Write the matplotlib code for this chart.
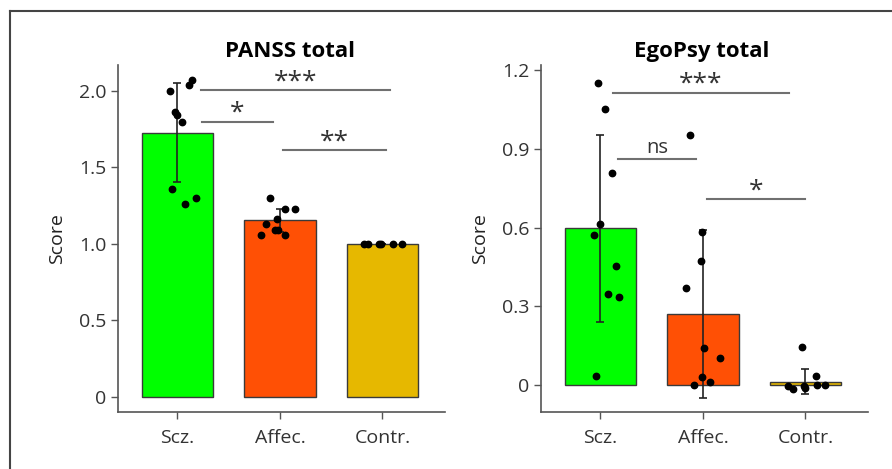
import matplotlib
matplotlib.use("Agg")
import matplotlib.pyplot as plt
from matplotlib.lines import Line2D

plt.rcParams['font.family'] = ['Open Sans', 'DejaVu Sans']

groups = ["Scz.", "Affec.", "Contr."]
bar_colors = ["#00ff00", "#ff5005", "#e6b800"]

# PANSS total
panss_mean = [1.727, 1.155, 1.0]
panss_err = [0.325, 0.075, 0.0]
panss_pts = [
    [(-0.07, 2.00), (0.11, 2.04), (0.14, 2.07), (-0.02, 1.86), (0.00, 1.84),
     (0.04, 1.80), (-0.05, 1.36), (0.18, 1.30), (0.07, 1.26)],
    [(-0.10, 1.30), (0.05, 1.23), (0.15, 1.23), (-0.03, 1.16), (-0.14, 1.13),
     (-0.19, 1.06), (-0.02, 1.09), (0.05, 1.06), (-0.05, 1.09)],
    [(-0.18, 1.0), (-0.14, 1.0), (-0.03, 1.0), (-0.01, 1.0), (0.10, 1.0), (0.19, 1.0)],
]
panss_ticks = [0, 0.5, 1.0, 1.5, 2.0]
panss_ticklabels = ["0", "0.5", "1.0", "1.5", "2.0"]
# (x1, x2, y, label)
panss_sig = [(0.23, 2.07, 2.006, "***"), (0.24, 0.93, 1.80, "*"), (1.03, 2.03, 1.614, "**")]

# EgoPsy total
ego_mean = [0.597, 0.27, 0.0125]
ego_err = [0.356, 0.32, 0.048]
ego_pts = [
    [(-0.02, 1.15), (0.04, 1.053), (0.11, 0.81), (0.00, 0.615), (-0.06, 0.571),
     (0.15, 0.453), (0.07, 0.348), (0.18, 0.334), (-0.04, 0.035)],
    [(-0.13, 0.954), (-0.01, 0.585), (-0.02, 0.473), (-0.17, 0.37), (0.01, 0.143),
     (0.17, 0.104), (-0.01, 0.03), (0.07, 0.011), (-0.09, 0.0)],
    [(-0.03, 0.146), (0.10, 0.034), (-0.17, -0.004), (-0.12, -0.016), (-0.01, -0.004),
     (0.00, -0.01), (0.11, 0.0), (0.19, 0.0)],
]
ego_ticks = [0, 0.3, 0.6, 0.9, 1.2]
ego_ticklabels = ["0", "0.3", "0.6", "0.9", "1.2"]
ego_sig = [(0.12, 1.84, 1.114, "***"), (0.17, 0.93, 0.861, "ns"), (1.04, 2.0, 0.709, "*")]

fig = plt.figure(figsize=(8.92, 4.69), dpi=100)
ax1 = fig.add_axes([0.1323, 0.1215, 0.3666, 0.7399])
ax2 = fig.add_axes([0.6065, 0.1215, 0.3666, 0.7399])

# cadre autour de la figure
fig.add_artist(Line2D([10 / 892, 1.0], [1 - 11 / 469, 1 - 11 / 469], color="#444444", lw=1.5))
fig.add_artist(Line2D([10 / 892, 10 / 892], [0.0, 1 - 11 / 469], color="#444444", lw=1.5))


def dessiner(ax, titre, moy, err, pts, ticks, labels, sig, ylim, title_x):
    x = range(len(groups))
    ax.bar(x, moy, width=0.7, color=bar_colors, edgecolor="#3a3a3a", linewidth=1.0, zorder=1)
    ax.errorbar(x, moy, yerr=err, fmt="none", ecolor="#222222", elinewidth=1.2,
                capsize=3, capthick=1.2, zorder=2)
    for i, groupe in enumerate(pts):
        xs = [i + dx for dx, _ in groupe]
        ys = [v for _, v in groupe]
        ax.plot(xs, ys, "o", color="black", markersize=4.6, zorder=3, clip_on=False)
    for x1, x2, y, lab in sig:
        ax.plot([x1, x2], [y, y], color="#707070", lw=1.5, zorder=2, clip_on=False)
        if lab == "ns":
            ax.annotate(lab, ((x1 + x2) / 2, y), xytext=(0, 8), textcoords="offset points",
                        ha="center", va="center", fontsize=14.5, color="#333333",
                        annotation_clip=False)
        else:
            ax.annotate(lab, ((x1 + x2) / 2, y), xytext=(0, 6), textcoords="offset points",
                        ha="center", va="center", fontsize=19, color="#333333",
                        annotation_clip=False)
    ax.set_xlim(-0.58, 2.61)
    ax.set_ylim(*ylim)
    ax.set_yticks(ticks)
    ax.set_yticklabels(labels)
    ax.set_xticks(list(x))
    ax.set_xticklabels(groups)
    ax.set_ylabel("Score", fontsize=14, color="#222222", labelpad=9)
    ax.set_title(titre, fontsize=16, fontweight="bold", x=title_x, pad=6)
    for s in ["top", "right"]:
        ax.spines[s].set_visible(False)
    for s in ["left", "bottom"]:
        ax.spines[s].set_color("#555555")
        ax.spines[s].set_linewidth(1.2)
    ax.tick_params(axis="both", colors="#555555", length=5, width=1.0, labelsize=14,
                   labelcolor="#333333")
    ax.tick_params(axis="x", pad=7)


dessiner(ax1, "PANSS total", panss_mean, panss_err, panss_pts, panss_ticks,
         panss_ticklabels, panss_sig, (-0.1, 2.17), 0.526)
dessiner(ax2, "EgoPsy total", ego_mean, ego_err, ego_pts, ego_ticks,
         ego_ticklabels, ego_sig, (-0.1025, 1.22), 0.49)

fig.savefig("out.png", dpi=100)
